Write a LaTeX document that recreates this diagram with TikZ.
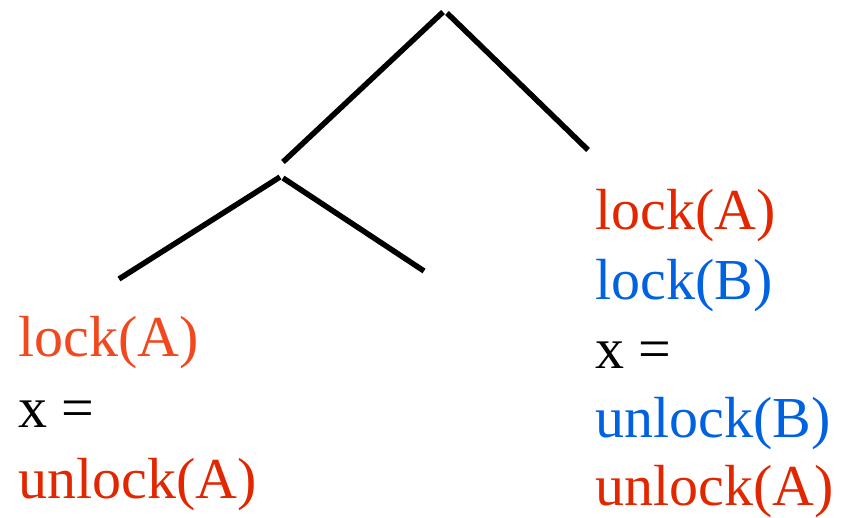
\documentclass[tikz,border=0pt]{standalone}
\usepackage{fontspec}
\setmainfont{Liberation Serif}
\definecolor{lockorange}{RGB}{242,72,30}
\definecolor{lockred}{RGB}{226,38,0}
\definecolor{lockblue}{RGB}{0,98,224}
\begin{document}
\begin{tikzpicture}[x=1pt,y=-1pt,
  branch/.style={line width=5.5pt,black},
  stmt/.style={anchor=base west,inner sep=0pt,font=\fontsize{58}{70}\selectfont}]
\useasboundingbox (0,0) rectangle (845,518);
% tree
\coordinate (r1) at (443,12);
\coordinate (r2) at (447,13);
\coordinate (m1) at (283,162);
\coordinate (rr) at (588,150);
\coordinate (n1) at (280,177);
\coordinate (n2) at (283,178);
\coordinate (ll) at (119,279);
\coordinate (lr) at (424,271);
\draw[branch] (m1) -- (r1);
\draw[branch] (r2) -- (rr);
\draw[branch] (ll) -- (n1);
\draw[branch] (n2) -- (lr);
% left leaf
\node[stmt,text=lockorange] (a1) at (18,356) {lock(A)};
\node[stmt,text=black] (a2) at (18,427) {x =};
\node[stmt,text=lockred] (a3) at (18,498) {unlock(A)};
% right leaf
\node[stmt,text=lockred] (b1) at (595,230) {lock(A)};
\node[stmt,text=lockblue] (b2) at (595,299) {lock(B)};
\node[stmt,text=black] (b3) at (595,368) {x =};
\node[stmt,text=lockblue] (b4) at (595,437) {unlock(B)};
\node[stmt,text=lockred] (b5) at (595,505) {unlock(A)};
\end{tikzpicture}
\end{document}
